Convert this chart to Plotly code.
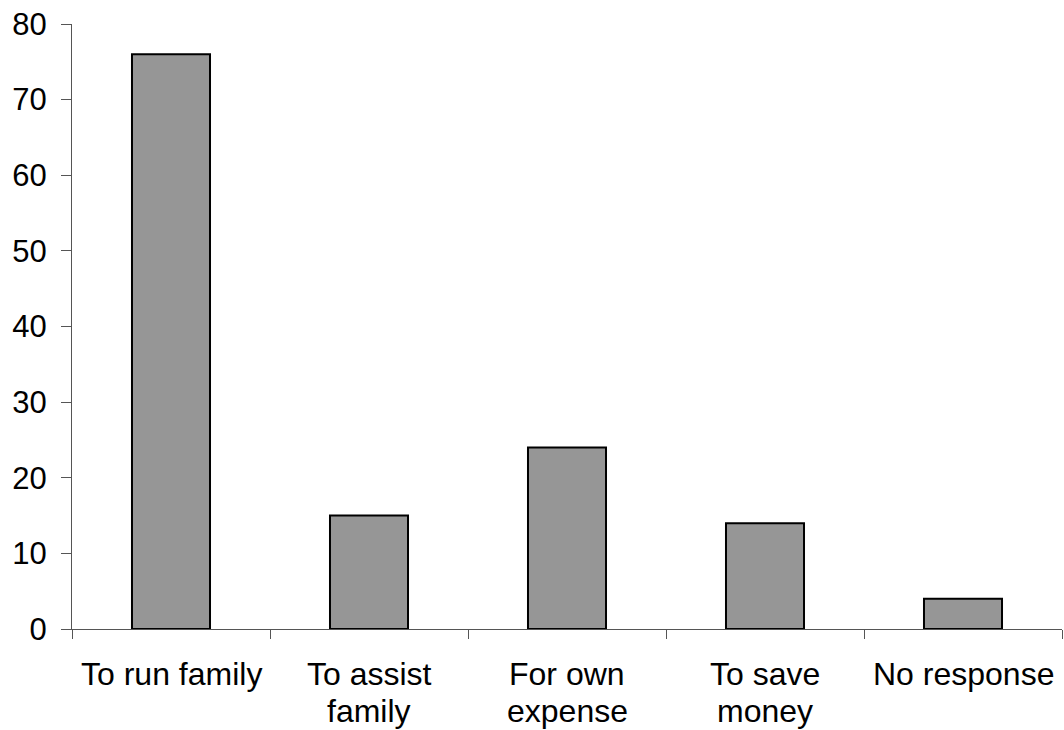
import plotly.graph_objects as go

categories = ["To run family", "To assist family", "For own expense", "To save money", "No response"]
label_lines = [["To run family"], ["To assist", "family"], ["For own", "expense"], ["To save", "money"], ["No response"]]
values = [76, 15, 24, 14, 4]
y_ticks = [0, 10, 20, 30, 40, 50, 60, 70, 80]

fig = go.Figure(
    go.Bar(
        x=categories,
        y=values,
        marker=dict(color="#969696", line=dict(color="#000000", width=2)),
    )
)

# Category labels, one annotation per line so the line spacing can be set
line_step = 37
for cat, lines in zip(categories, label_lines):
    for i, line in enumerate(lines):
        fig.add_annotation(
            x=cat,
            y=0,
            xref="x",
            yref="paper",
            text=line,
            showarrow=False,
            xanchor="center",
            yanchor="top",
            yshift=-25 - i * line_step,
            font=dict(size=32, color="black", family="Liberation Sans, Arial, sans-serif"),
        )

fig.update_layout(
    width=1064,
    height=730,
    margin=dict(l=72, r=2, t=24, b=101),
    paper_bgcolor="white",
    plot_bgcolor="white",
    bargap=0.606,
    showlegend=False,
    font=dict(family="Liberation Sans, Arial, sans-serif", color="black"),
)

fig.update_xaxes(
    type="category",
    showline=True,
    linecolor="#555555",
    linewidth=1,
    ticks="outside",
    tickson="boundaries",
    ticklen=9,
    tickcolor="#555555",
    showticklabels=False,
    showgrid=False,
    zeroline=False,
)

fig.update_yaxes(
    range=[0, 80],
    tickvals=y_ticks,
    showline=True,
    linecolor="#555555",
    linewidth=1,
    ticks="outside",
    ticklen=10,
    tickcolor="#555555",
    tickfont=dict(size=31),
    ticklabelstandoff=8,
    showgrid=False,
    zeroline=False,
)

fig.write_html("out.html")
